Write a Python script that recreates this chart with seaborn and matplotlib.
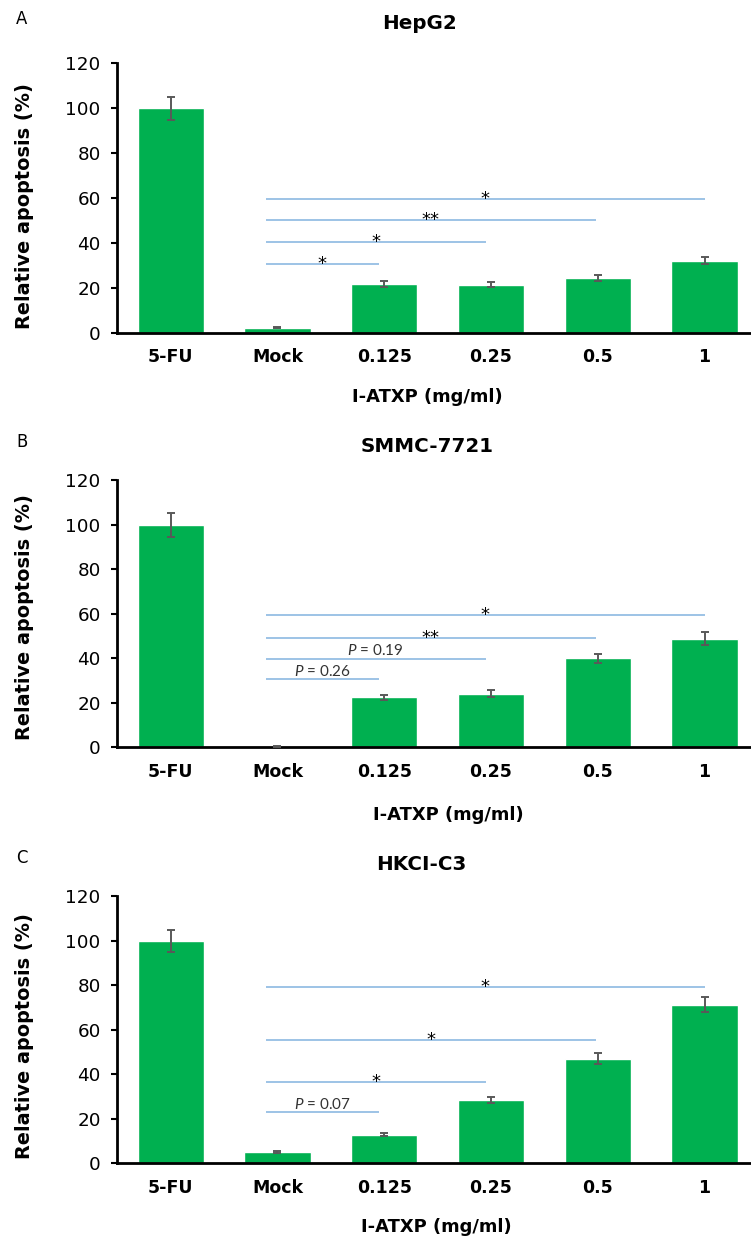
import numpy as np
import pandas as pd
import matplotlib
matplotlib.use("Agg")
import matplotlib.pyplot as plt
import seaborn as sns

# gruplar (x ekseni)
groups = ["5-FU", "Mock", "0.125", "0.25", "0.5", "1"]

# ortalama apoptoz (%) ve hata cubuklari
hepg2_mean = [100, 2.3, 21.8, 21.4, 24.5, 32.1]
hepg2_err = [5.2, 0.4, 1.3, 1.2, 1.3, 1.7]
smmc_mean = [100, 0.2, 22.5, 24.1, 40.0, 48.9]
smmc_err = [5.2, 0.2, 1.1, 1.5, 2.0, 2.8]
hkci_mean = [99.7, 5.1, 12.9, 28.6, 46.9, 71.3]
hkci_err = [4.9, 0.4, 0.7, 1.4, 2.5, 3.5]

# anlamlilik cizgileri (Mock -> doz)
sig_start = 0.89
sig_end = [1.95, 2.95, 3.98, 5.0]
hepg2_sig_y = [30.5, 40.4, 50.3, 59.7]
hepg2_sig_txt = ["*", "*", "**", "*"]
smmc_sig_y = [30.6, 39.9, 49.2, 59.5]
smmc_sig_txt = ["P = 0.26", "P = 0.19", "**", "*"]
hkci_sig_y = [23.0, 36.7, 55.4, 79.2]
hkci_sig_txt = ["P = 0.07", "*", "*", "*"]

sns.set_style("white")
plt.rcParams['font.family'] = ['DejaVu Sans']
plt.rcParams['text.color'] = 'black'
plt.rcParams['axes.labelcolor'] = 'black'
plt.rcParams['xtick.color'] = 'black'
plt.rcParams['ytick.color'] = 'black'
plt.rcParams['mathtext.fontset'] = 'custom'
plt.rcParams['mathtext.rm'] = 'Lato'
plt.rcParams['mathtext.it'] = 'Lato:italic'

W, H = 751, 1239
def fx(x):
    return x / W
def fy(y):
    return 1 - y / H

fig = plt.figure(figsize=(W / 100, H / 100), dpi=100)

# panel: harf, baslik, veri, piksel konumlari
panels = [
    dict(letter="A", title="HepG2", mean=hepg2_mean, err=hepg2_err,
         sig_y=hepg2_sig_y, sig_txt=hepg2_sig_txt,
         y0=332.7, y120=63.3, let_y=19, tit_x=420, tit_y=23.3,
         xl=(427, 396.7), yl=205.8),
    dict(letter="B", title="SMMC-7721", mean=smmc_mean, err=smmc_err,
         sig_y=smmc_sig_y, sig_txt=smmc_sig_txt,
         y0=747.3, y120=480.5, let_y=441.7, tit_x=427, tit_y=446,
         xl=(448, 815), yl=617.5),
    dict(letter="C", title="HKCI-C3", mean=hkci_mean, err=hkci_err,
         sig_y=hkci_sig_y, sig_txt=hkci_sig_txt,
         y0=1163.3, y120=896.2, let_y=858.3, tit_x=421, tit_y=865,
         xl=(436, 1226.7), yl=1035.8),
]

for p in panels:
    ax = fig.add_axes([fx(117.3), fy(p["y0"]), (757.9 - 117.3) / W,
                       (p["y0"] - p["y120"]) / H])
    df = pd.DataFrame({"grup": groups, "deger": p["mean"]})
    sns.barplot(data=df, x="grup", y="deger", color="#00B050", saturation=1,
                width=0.62, errorbar=None, ax=ax, zorder=2)
    ax.errorbar(np.arange(len(groups)), p["mean"], yerr=p["err"], fmt="none",
                ecolor="#595959", elinewidth=1.4, capsize=3.1, capthick=1.4,
                zorder=3)

    # anlamlilik cizgileri ve etiketleri
    for yv, xe, txt in zip(p["sig_y"], sig_end, p["sig_txt"]):
        ax.plot([sig_start, xe], [yv, yv], color="#9DC3E6", lw=1.4, zorder=1,
                solid_capstyle="butt")
        xm = (sig_start + xe) / 2
        if txt.startswith("P"):
            lab = "$\\mathit{P}$ = " + txt.split("= ")[1]
            ax.annotate(lab, xy=(xm, yv), xytext=(0, 2.5),
                        textcoords="offset points", ha="center", va="baseline",
                        fontsize=11, color="#333333", family="Lato")
        else:
            ax.annotate(txt, xy=(xm, yv), xytext=(0, -3.6),
                        textcoords="offset points", ha="center", va="baseline",
                        fontsize=13, color="black")

    ax.set_ylim(0, 120)
    ax.set_xlim(-0.5, len(groups) - 0.5)
    ax.set_yticks(range(0, 121, 20))
    sns.despine(ax=ax)
    for s in ["left", "bottom"]:
        ax.spines[s].set_color("black")
        ax.spines[s].set_linewidth(2)
    ax.tick_params(axis="y", left=True, length=4, width=1.5, pad=8,
                   labelsize=13.2, colors="black")
    ax.tick_params(axis="x", length=0, pad=11, labelsize=12.5, colors="black")
    for lbl in ax.get_xticklabels():
        lbl.set_fontweight("bold")

    ax.set_xlabel("I-ATXP (mg/ml)", fontsize=12.9, fontweight="bold")
    ax.xaxis.set_label_coords(fx(p["xl"][0]), fy(p["xl"][1]),
                              transform=fig.transFigure)
    ax.xaxis.label.set_va("center")
    ax.set_ylabel("Relative apoptosis (%)", fontsize=13.9, fontweight="bold")
    ax.yaxis.set_label_coords(fx(24.6), fy(p["yl"]), transform=fig.transFigure)
    ax.yaxis.label.set_va("center")

    fig.text(fx(p["tit_x"]), fy(p["tit_y"]), p["title"], ha="center",
             va="center", fontsize=14.3, fontweight="bold")
    fig.text(fx(21.7), fy(p["let_y"]), p["letter"], ha="center", va="center",
             fontsize=11.9)

fig.savefig("out.png", dpi=100)
